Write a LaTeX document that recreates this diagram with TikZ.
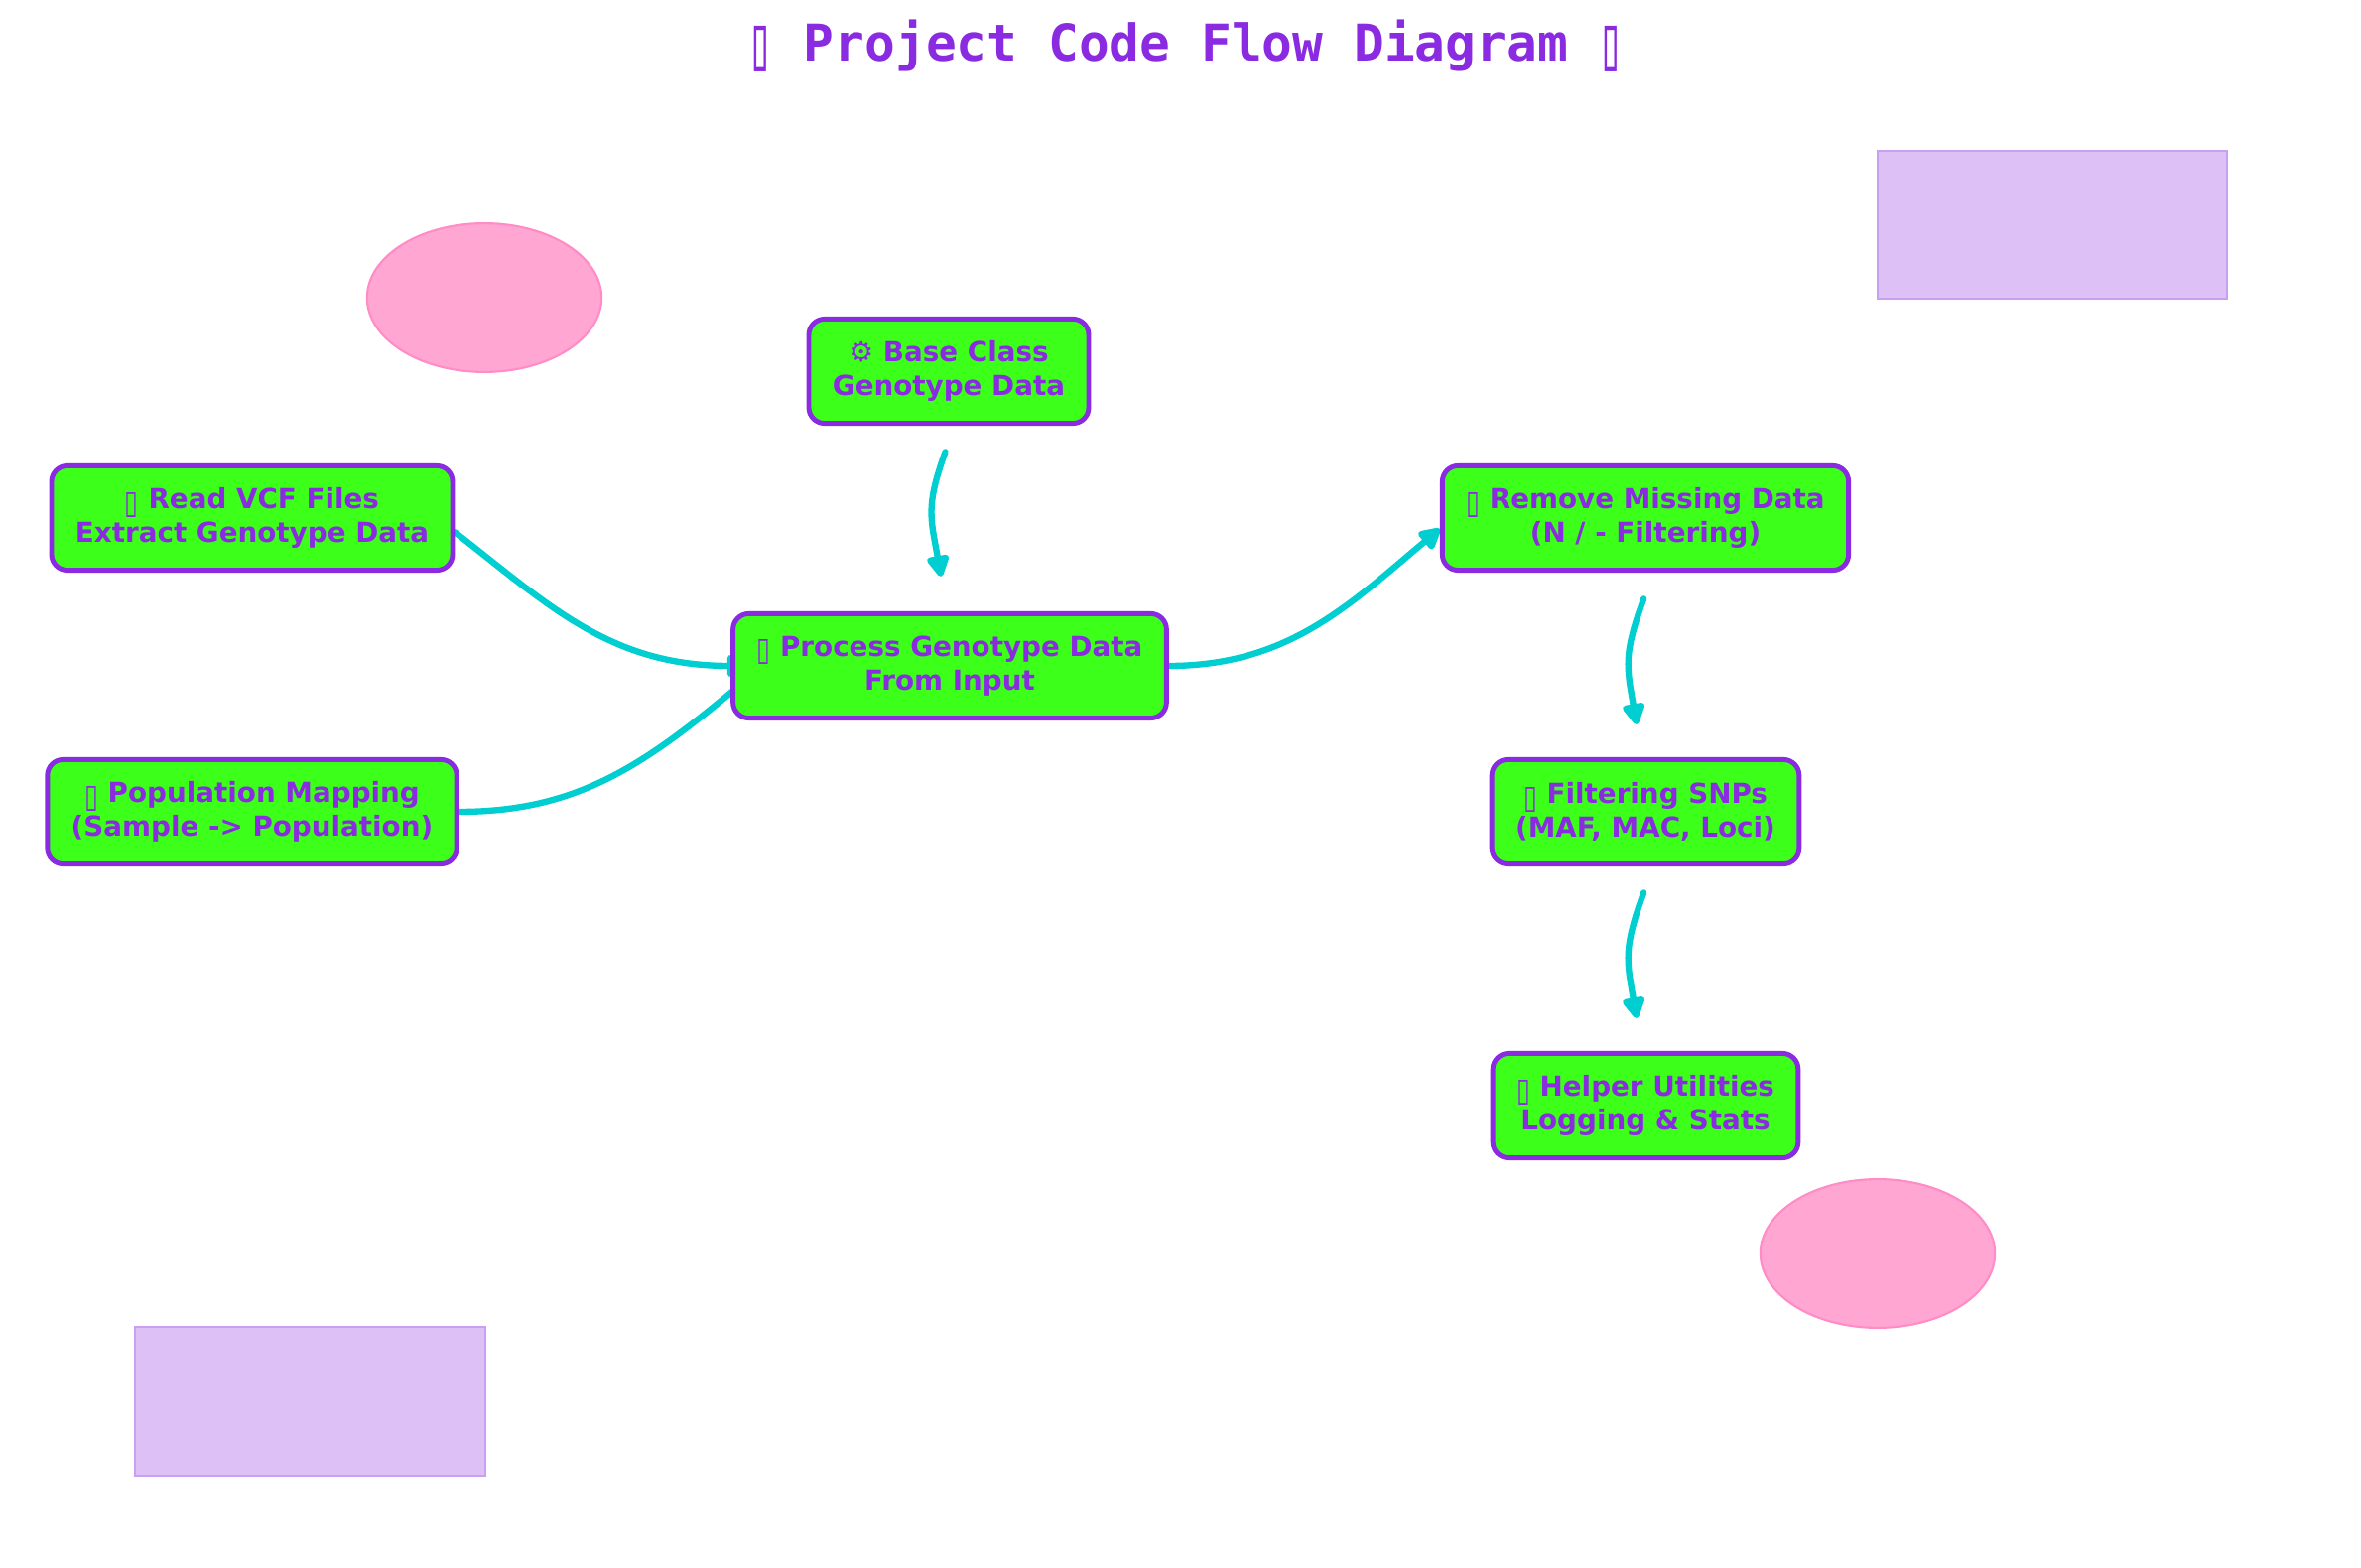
\documentclass[tikz,border=0pt]{standalone}
\usepackage{fontspec}
\setmainfont{DejaVu Sans}
\newfontfamily\titlefont{DejaVu Sans Mono}
\usetikzlibrary{arrows.meta,backgrounds}
\definecolor{flowgreen}{HTML}{3CFF1A}
\definecolor{flowpurple}{HTML}{8A2BE2}
\definecolor{flowcyan}{HTML}{00CED1}
\definecolor{blobpink}{HTML}{FFA6D2}
\definecolor{blobpinkline}{HTML}{FF8CC6}
\definecolor{blocklav}{HTML}{DCC0F6}
\definecolor{blocklavline}{HTML}{C8A0F2}
\newcommand{\boxfont}{\fontsize{7.9}{9.5}\selectfont\bfseries}
\newcommand{\tofu}{\raisebox{-0.15em}{\resizebox*{0.5em}{0.9em}{▯}}}
\tikzset{
  codebox/.style={draw=flowpurple, fill=flowgreen, line width=1.4pt, rounded corners=4.5pt,
    align=center, text=flowpurple, font=\boxfont, minimum height=29.9pt, inner xsep=6.8pt},
  flow/.style={draw=flowcyan, line width=1.8pt, line cap=round,
    -{Triangle[length=7pt,width=7pt,round]}},
  blob/.style={draw=blobpinkline, fill=blobpink, line width=0.6pt},
  block/.style={draw=blocklavline, fill=blocklav, line width=0.6pt},
}
\begin{document}
\begin{tikzpicture}[x=0.01cm,y=0.01cm]
\useasboundingbox (0,0) rectangle (2379,-1580);
% title
\node[text=flowpurple, font=\titlefont\fontsize{14.55}{16}\selectfont\bfseries] (title) at (1195,-46) {\tofu{} Project Code Flow Diagram \tofu};
% background shapes
\draw[blob] (488,-300) ellipse (33.6pt and 21.3pt);
\draw[blob] (1892,-1263) ellipse (33.6pt and 21.3pt);
\draw[block] (1892,-152) rectangle (2244,-301);
\draw[block] (136,-1337) rectangle (489,-1487);
% boxes
\node[codebox] (base) at (956,-374) {⚙ Base Class\\Genotype Data};
\node[codebox] (read) at (254,-522) {\tofu{} Read VCF Files\\Extract Genotype Data};
\node[codebox] (process) at (957,-671) {\tofu{} Process Genotype Data\\From Input};
\node[codebox] (pop) at (254,-818) {\tofu{} Population Mapping\\(Sample -> Population)};
\node[codebox] (remove) at (1658,-522) {\tofu{} Remove Missing Data\\(N / - Filtering)};
\node[codebox] (filter) at (1658,-818) {\tofu{} Filtering SNPs\\(MAF, MAC, Loci)};
\node[codebox] (helper) at (1658,-1114) {\tofu{} Helper Utilities\\Logging \& Stats};
% connectors
\begin{scope}[on background layer]
\draw[flow, shorten >=-5pt] (read.356) to[out=-38,in=180] (process.west);
\draw[flow, shorten >=-8pt] (pop.east) to[out=0,in=-140] (process.187);
\draw[flow] (process.east) to[out=0,in=-140] (remove.183);
\end{scope}
\draw[flow] ([xshift=-1pt,yshift=-7.5pt]base.south) to[out=-110,in=100,looseness=1.2] ([xshift=-2.5pt,yshift=10pt]process.north);
\draw[flow] ([xshift=-0.5pt,yshift=-7.5pt]remove.south) to[out=-110,in=100,looseness=1.2] ([xshift=-2.5pt,yshift=9.4pt]filter.north);
\draw[flow] ([xshift=-0.5pt,yshift=-7.5pt]filter.south) to[out=-110,in=100,looseness=1.2] ([xshift=-2.5pt,yshift=9.4pt]helper.north);
\end{tikzpicture}
\end{document}
